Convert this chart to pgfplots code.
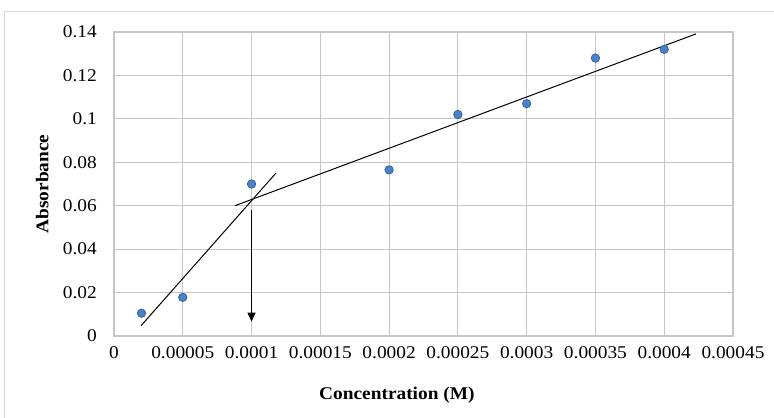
\documentclass[border=0pt]{standalone}
\usepackage{fontspec}
\setmainfont{Liberation Serif}[FakeStretch=1.08]
\usepackage{pgfplots}
\pgfplotsset{compat=1.18}
\usetikzlibrary{arrows.meta}
\definecolor{gridgray}{RGB}{198,198,198}
\definecolor{framegray}{RGB}{217,217,217}
\definecolor{ptblue}{RGB}{74,130,196}
\definecolor{ptedge}{RGB}{52,100,168}
\begin{document}
\begin{tikzpicture}
\begin{axis}[
  scale only axis, width=619bp, height=304bp,
  xmin=0, xmax=0.00045, ymin=0, ymax=0.14,
  xtick={0,0.00005,0.0001,0.00015,0.0002,0.00025,0.0003,0.00035,0.0004,0.00045},
  xticklabels={0,0.00005,0.0001,0.00015,0.0002,0.00025,0.0003,0.00035,0.0004,0.00045},
  ytick={0,0.02,0.04,0.06,0.08,0.1,0.12,0.14},
  yticklabels={0,0.02,0.04,0.06,0.08,0.1,0.12,0.14},
  scaled x ticks=false, scaled y ticks=false,
  /pgf/number format/assume math mode=true,
  grid=major, grid style={color=gridgray, line width=1.2bp},
  axis line style={gridgray, line width=1.2bp},
  major tick length=0pt, tick style={draw=none},
  ticklabel style={font=\fontsize{18}{20}\selectfont},
  xticklabel style={anchor=center, inner sep=0pt, yshift=-17bp},
  yticklabel style={anchor=east, inner sep=0pt, xshift=-17bp},
  xlabel={\textbf{Concentration (M)}},
  ylabel={\textbf{Absorbance}},
  label style={font=\fontsize{18}{20}\selectfont},
  xlabel style={at={(axis description cs:0.457,-0.194)}, anchor=center, inner sep=0pt},
  ylabel style={at={(axis description cs:-0.116,0.5)}, anchor=center, inner sep=0pt, rotate=0},
  clip=false,
]
\addplot[black, line width=1bp] coordinates {(0.0000196,0.0047) (0.0001177,0.075)};
\addplot[black, line width=1bp] coordinates {(0.0000879,0.060) (0.000423,0.1391)};
\addplot[black, line width=1.3bp, -{Triangle[length=9bp,width=8bp]}] coordinates {(0.0001,0.058) (0.0001,0.0066)};
\addplot[only marks, mark=*, mark size=4.2bp, mark options={fill=ptblue, draw=ptedge, line width=0.8bp}]
  coordinates {(0.00002,0.0105) (0.00005,0.0178) (0.0001,0.070) (0.0002,0.0765)
               (0.00025,0.102) (0.0003,0.107) (0.00035,0.128) (0.0004,0.132)};
\end{axis}
\pgfresetboundingbox
\path[use as bounding box] (-114bp,-82bp) rectangle (660bp,336bp);
\draw[framegray, line width=1bp] (-109bp,-95bp) -- (-109bp,324bp) -- (680bp,324bp);
\end{tikzpicture}
\end{document}
